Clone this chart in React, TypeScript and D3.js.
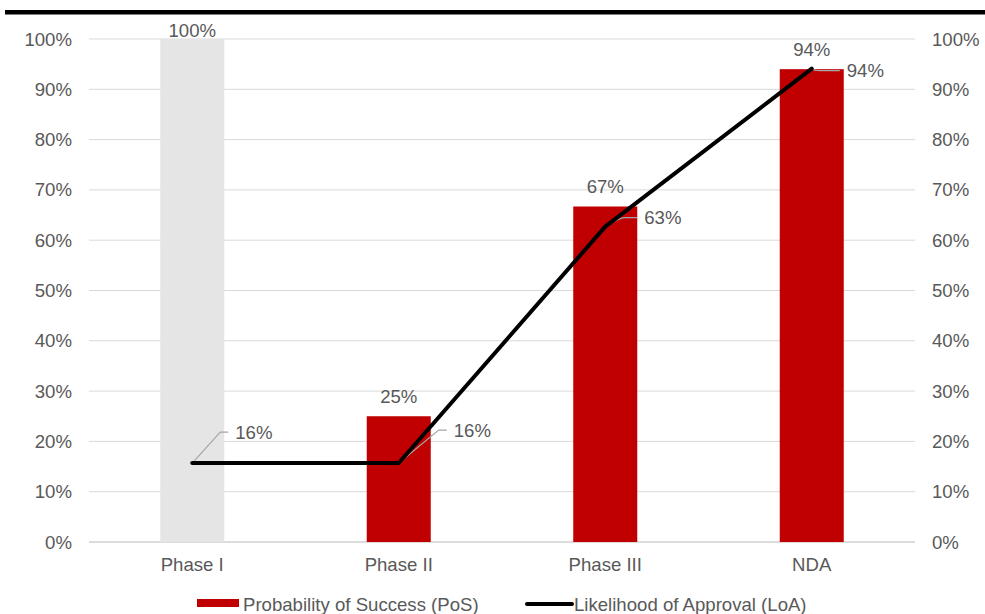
import React from "react";
import * as d3 from "d3";

const categories = ["Phase I", "Phase II", "Phase III", "NDA"];
const posValues = [100, 25, 66.7, 94];
const posLabels = ["100%", "25%", "67%", "94%"];
const loaValues = [15.7, 15.7, 62.7, 94.1];
const loaLabels = ["16%", "16%", "63%", "94%"];
const barColors = ["#e5e5e5", "#c00000", "#c00000", "#c00000"];
const yTicks = [0, 10, 20, 30, 40, 50, 60, 70, 80, 90, 100];
const seriesNames = ["Probability of Success (PoS)", "Likelihood of Approval (LoA)"];

// leader-line label offsets (dx, dy from the point to label elbow)
const loaLabelOffsets = [
  { ex: 28, ey: -31, hx: 8 },
  { ex: 40, ey: -33, hx: 8 },
  { ex: 20, ey: -9, hx: 12, curve: true },
  { ex: 8, ey: 2, hx: 20, curve: true },
];

export default function App() {
  const W = 985, H = 614;
  const left = 89, right = 915, top = 39, bottom = 542;
  const x = d3.scaleBand<string>().domain(categories).range([left, right]).paddingInner(0.69).paddingOuter(0.345);
  const y = d3.scaleLinear().domain([0, 100]).range([bottom, top]);
  const cx = (c: string) => (x(c) as number) + x.bandwidth() / 2;
  const line = d3.line<number>().x((_, i) => cx(categories[i])).y((d) => y(d));
  const font = "'Liberation Sans', Arial, sans-serif";
  const txt = "#595959";
  const fs = 18.6;

  return (
    <svg width={W} height={H} style={{ position: "absolute", left: 0, top: 0 }} fontFamily={font}>
      <rect x={0} y={0} width={W} height={H} fill="#fff" />
      <rect x={5} y={10} width={980} height={4.5} fill="#000" />
      {yTicks.map((t) => (
        <g key={t}>
          <line x1={left} x2={right} y1={y(t)} y2={y(t)} stroke={t === 0 ? "#d0d0d0" : "#d9d9d9"} strokeWidth={t === 0 ? 1.5 : 1} />
          <text x={72} y={y(t)} dy="0.35em" textAnchor="end" fontSize={fs} fill={txt}>{t}%</text>
          <text x={932} y={y(t)} dy="0.35em" textAnchor="start" fontSize={fs} fill={txt}>{t}%</text>
        </g>
      ))}
      {categories.map((c, i) => (
        <rect key={c} x={x(c)} y={y(posValues[i])} width={x.bandwidth()} height={bottom - y(posValues[i])} fill={barColors[i]} />
      ))}
      {categories.map((c, i) => (
        <text key={c} x={cx(c)} y={Math.max(y(posValues[i]) - 20, 30)} dy="0.35em" textAnchor="middle" fontSize={fs} fill={txt}>{posLabels[i]}</text>
      ))}
      {categories.map((c) => (
        <text key={c} x={cx(c)} y={564} dy="0.35em" textAnchor="middle" fontSize={fs} fill={txt}>{c}</text>
      ))}
      {categories.map((c, i) => {
        const px = cx(c), py = y(loaValues[i]);
        const o = loaLabelOffsets[i];
        const ex = px + o.ex, ey = py + o.ey;
        const d = o.curve
          ? `M${px},${py} Q${ex - 6},${ey} ${ex},${ey} L${ex + o.hx},${ey}`
          : `M${px},${py} L${ex},${ey} L${ex + o.hx},${ey}`;
        return (
          <g key={c}>
            <path d={d} fill="none" stroke="#a6a6a6" strokeWidth={1.2} />
            <text x={ex + o.hx + 7} y={ey} dy="0.35em" fontSize={fs} fill={txt}>{loaLabels[i]}</text>
          </g>
        );
      })}
      <path d={line(loaValues) || ""} fill="none" stroke="#000" strokeWidth={4} strokeLinejoin="round" strokeLinecap="round" />
      <rect x={197} y={599} width={42} height={8} fill="#c00000" />
      <text x={243} y={604} dy="0.35em" fontSize={fs} fill={txt}>{seriesNames[0]}</text>
      <line x1={527} x2={572} y1={604} y2={604} stroke="#000" strokeWidth={4} strokeLinecap="round" />
      <text x={574} y={604} dy="0.35em" fontSize={fs} fill={txt}>{seriesNames[1]}</text>
    </svg>
  );
}
